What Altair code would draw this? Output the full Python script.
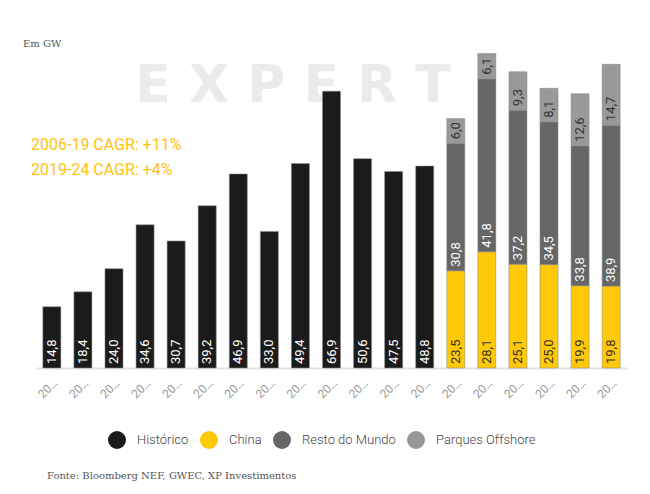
import altair as alt
import pandas as pd

years = [str(y) for y in range(2006, 2025)]
hist_years = years[:13]
fcst_years = years[13:]
historico = [14.8, 18.4, 24.0, 34.6, 30.7, 39.2, 46.9, 33.0, 49.4, 66.9, 50.6, 47.5, 48.8]
china = [23.5, 28.1, 25.1, 25.0, 19.9, 19.8]
resto = [30.8, 41.8, 37.2, 34.5, 33.8, 38.9]
offshore = [6.0, 6.1, 9.3, 8.1, 12.6, 14.7]
series_names = ["Histórico", "China", "Resto do Mundo", "Parques Offshore"]
colors = ["#1b1b1b", "#ffc907", "#666666", "#999999"]
cagr_lines = ["2006-19 CAGR: +11%", "2019-24 CAGR: +4%"]

rows = []
for yr, v in zip(hist_years, historico):
    rows.append(dict(year=yr, series="Histórico", ord=0, value=v))
for i, yr in enumerate(fcst_years):
    rows.append(dict(year=yr, series="China", ord=1, value=china[i]))
    rows.append(dict(year=yr, series="Resto do Mundo", ord=2, value=resto[i]))
    rows.append(dict(year=yr, series="Parques Offshore", ord=3, value=offshore[i]))
df = pd.DataFrame(rows)
df["label"] = df["value"].map(lambda v: f"{v:.1f}".replace(".", ","))

base = alt.Chart(df).transform_stack(
    stack="value", groupby=["year"], as_=["y0", "y1"],
    sort=[alt.SortField("ord", order="ascending")]
)

x_enc = alt.X(
    "year:O", title=None, sort=years,
    scale=alt.Scale(paddingInner=0.42, paddingOuter=0.22),
    axis=alt.Axis(labelAngle=315, labelLimit=22, labelColor="#999999",
                  labelFont="Roboto", labelFontSize=12, ticks=False,
                  domainColor="#e3e3e3", domainWidth=2, labelPadding=9, grid=False),
)
y_enc = alt.Y("y0:Q", scale=alt.Scale(domain=[0, 80], nice=False), axis=None)

bars = base.mark_bar(stroke="#8a8a8a", strokeWidth=1, strokeOpacity=0.55).encode(
    x=x_enc,
    y=y_enc,
    y2="y1:Q",
    color=alt.Color(
        "series:N",
        scale=alt.Scale(domain=series_names, range=colors),
        legend=alt.Legend(
            title=None, orient="none", legendX=72, legendY=394,
            direction="horizontal", symbolType="circle", symbolSize=324,
            symbolStrokeWidth=0, labelFont="Roboto", labelFontSize=13,
            labelFontWeight=300, labelColor="#444444", columnPadding=11,
            labelOffset=11, padding=0,
        ),
    ),
)

labels = base.mark_text(
    angle=270, align="left", baseline="middle", dx=4,
    font="Roboto", fontSize=13,
).encode(
    x=alt.X("year:O", sort=years),
    y=alt.Y("y0:Q"),
    text="label:N",
    color=alt.condition(
        (alt.datum.series == "Parques Offshore") | (alt.datum.series == "China"),
        alt.value("#333333"), alt.value("white")),
)

watermark = alt.Chart(pd.DataFrame({"t": ["E X P E R T"]})).mark_text(
    font="DejaVu Sans", fontSize=52, fontWeight="bold", color="#ebebeb",
    align="center", baseline="middle",
).encode(x=alt.value(257), y=alt.value(49), text="t:N")

em_gw = alt.Chart(pd.DataFrame({"t": ["Em GW"]})).mark_text(
    font="DejaVu Serif", fontSize=10, color="#555555", align="left", baseline="middle"
).encode(x=alt.value(-13), y=alt.value(7), text="t:N")

cagr_df = pd.DataFrame({"t": cagr_lines, "i": [0, 1]})
cagr1 = alt.Chart(cagr_df).transform_filter(alt.datum.i == 0).mark_text(
    font="Roboto", fontSize=16, color="#ffc20e", align="left", baseline="middle"
).encode(x=alt.value(-5), y=alt.value(108), text="t:N")
cagr2 = alt.Chart(cagr_df).transform_filter(alt.datum.i == 1).mark_text(
    font="Roboto", fontSize=16, color="#ffc20e", align="left", baseline="middle"
).encode(x=alt.value(-5), y=alt.value(133), text="t:N")

footer = alt.Chart(pd.DataFrame({"t": ["Fonte: Bloomberg NEF, GWEC, XP Investimentos"]})).mark_text(
    font="DejaVu Serif", fontSize=10, color="#555555", align="left", baseline="middle"
).encode(x=alt.value(11), y=alt.value(439), text="t:N")

chart = alt.layer(watermark, bars, labels, em_gw, cagr1, cagr2, footer).properties(
    width=591, height=331,
    padding={"left": 28, "top": 29, "right": 15, "bottom": 118},
    autosize="none",
).configure_view(stroke=None)

chart.save("out.html", embed_options={"renderer": "svg", "actions": False})
